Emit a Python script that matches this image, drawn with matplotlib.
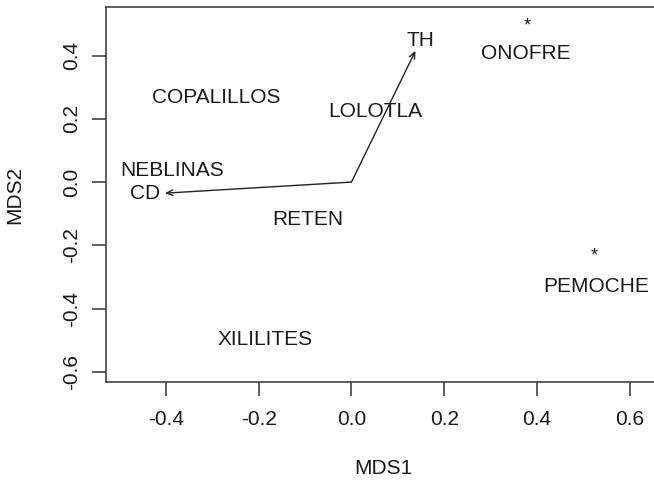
import matplotlib.pyplot as plt

plt.rcParams['font.family'] = ['Liberation Sans', 'DejaVu Sans']

# site labels (NMDS scores)
sites = ['ONOFRE', 'COPALILLOS', 'LOLOTLA', 'NEBLINAS', 'RETEN', 'PEMOCHE', 'XILILITES']
site_x = [0.376, -0.292, 0.052, -0.387, -0.095, 0.527, -0.186]
site_y = [0.405, 0.267, 0.222, 0.036, -0.118, -0.330, -0.497]

# points drawn as asterisks
star_x = [0.378, 0.523]
star_y = [0.494, -0.235]

# fitted vectors
vec_names = ['TH', 'CD']
vec_x = [0.138, -0.402]
vec_y = [0.415, -0.035]
vec_lab_x = [0.149, -0.445]
vec_lab_y = [0.449, -0.036]

fig = plt.figure(figsize=(6.54, 4.86), dpi=100)
ax = fig.add_axes([0.1621, 0.214, 0.847, 0.7706])
ax.set_xlim(-0.529, 0.665)
ax.set_ylim(-0.632, 0.552)

txt = '#1a1a1a'
for name, x, y in zip(sites, site_x, site_y):
    ax.text(x, y, name, ha='center', va='center', fontsize=15, color=txt)

for x, y in zip(star_x, star_y):
    ax.text(x, y, '*', ha='center', va='center', fontsize=13, color=txt)

for name, x, y, lx, ly in zip(vec_names, vec_x, vec_y, vec_lab_x, vec_lab_y):
    ax.annotate('', xy=(x, y), xytext=(0, 0),
                arrowprops=dict(arrowstyle='->,head_length=0.45,head_width=0.2',
                                color='#222222', lw=1.0, shrinkA=0, shrinkB=0))
    ax.text(lx, ly, name, ha='center', va='center', fontsize=15, color=txt)

ax.set_xticks([-0.4, -0.2, 0.0, 0.2, 0.4, 0.6])
ax.set_yticks([-0.6, -0.4, -0.2, 0.0, 0.2, 0.4])
ax.set_xticklabels(['-0.4', '-0.2', '0.0', '0.2', '0.4', '0.6'])
ax.set_yticklabels(['-0.6', '-0.4', '-0.2', '0.0', '0.2', '0.4'], rotation=90, va='center')
ax.tick_params(direction='out', length=10, width=1.2, color='#444444',
               labelsize=15, labelcolor=txt)
ax.tick_params(axis='x', pad=10)
ax.tick_params(axis='y', pad=8)
for s in ax.spines.values():
    s.set_color('#444444')
    s.set_linewidth(1.2)

ax.set_xlabel('MDS1', fontsize=15, color=txt, labelpad=22)
ax.set_ylabel('MDS2', fontsize=15, color=txt, labelpad=27)

fig.savefig('out.png', dpi=100)
